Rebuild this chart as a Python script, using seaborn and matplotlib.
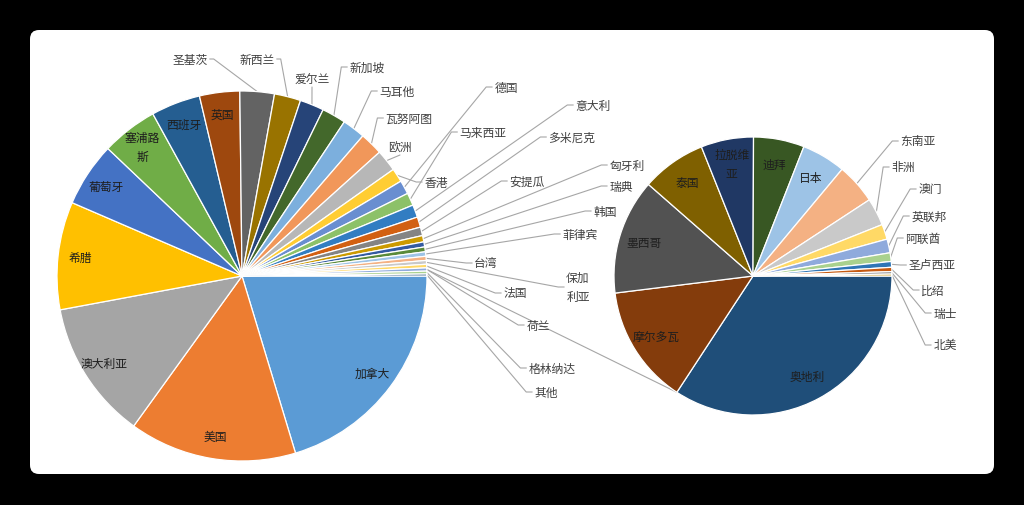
import numpy as np
import matplotlib
matplotlib.use("Agg")
import matplotlib.pyplot as plt
from matplotlib.patches import FancyBboxPatch
import seaborn as sns

# left pie: countries, share (%)
left_names = ['加拿大', '美国', '澳大利亚', '希腊', '葡萄牙', '塞浦路\n斯', '西班牙', '英国',
              '圣基茨', '新西兰', '爱尔兰', '新加坡', '马耳他', '瓦努阿图', '欧洲', '香港',
              '德国', '马来西亚', '意大利', '多米尼克', '安提瓜', '匈牙利', '瑞典', '韩国',
              '菲律宾', '台湾', '保加\n利亚', '法国', '荷兰', '格林纳达', '其他']
left_values = [20.3, 14.6, 12.1, 9.4, 5.6, 4.9, 4.3, 3.5,
               3.0, 2.3, 2.1, 2.1, 2.0, 2.0, 1.9, 1.2,
               1.2, 1.1, 1.1, 0.9, 0.75, 0.55, 0.44, 0.42,
               0.39, 0.36, 0.33, 0.31, 0.28, 0.25, 0.17]

# right pie
right_names = ['奥地利', '摩尔多瓦', '墨西哥', '泰国', '拉脱维\n亚', '迪拜', '日本', '东南亚',
               '非洲', '澳门', '英联邦', '阿联酋', '圣卢西亚', '比绍', '瑞士', '北美']
right_values = [34.2, 13.8, 13.4, 7.5, 6.1, 5.9, 5.1, 4.7,
                3.2, 1.75, 1.6, 1.0, 0.67, 0.5, 0.28, 0.22]

# excel office palette
left_colors = ['#5B9BD5', '#ED7D31', '#A5A5A5', '#FFC000', '#4472C4', '#70AD47',
               '#255E91', '#9E480E', '#636363', '#997300', '#264478', '#43682B',
               '#7CAFDD', '#F1975A', '#B7B7B7', '#FFCD33', '#698ED0', '#8CC168',
               '#327DC2', '#D26012', '#848484', '#CC9A00', '#335AA1', '#5A8A39',
               '#9DC3E6', '#F4B183', '#C9C9C9', '#FFD966', '#8FAADC', '#A9D18E',
               '#1F4E79']
right_colors = ['#1F4E79', '#843C0C', '#525252', '#7F6000', '#203864', '#385723',
                '#9DC3E6', '#F4B183', '#C9C9C9', '#FFD966', '#8FAADC', '#A9D18E',
                '#2E75B6', '#C55A11', '#7B7B7B', '#BF9000']

# label layout (pixel positions of outside labels)
left_label_pos = [(190, 60), (257, 60), (312, 80), (367, 68), (397, 92), (409, 119),
                  (400, 148), (436, 183), (506, 88), (483, 133), (593, 106), (572, 138),
                  (527, 182), (627, 166), (621, 187), (605, 212), (580, 235), (486, 264),
                  (578, 288), (515, 294), (538, 326), (552, 369), (546, 393)]
right_label_pos = [(918, 142), (903, 168), (930, 190), (929, 217), (923, 239),
                   (932, 266), (933, 291), (945, 314), (945, 346)]

W, H = 1024, 506
sns.set_theme(style="white")
plt.rcParams['font.family'] = ['Noto Sans CJK SC', 'DejaVu Sans']

fig = plt.figure(figsize=(W / 100, H / 100), dpi=100, facecolor='black')
ax = fig.add_axes([0, 0, 1, 1])
ax.add_patch(FancyBboxPatch((30, H - 475), 964, 444, boxstyle='round,pad=0,rounding_size=9',
                            fc='white', ec='none', zorder=0))

FS = 8.5
char_px = FS * 100 / 72
line_kw = dict(color='#A6A6A6', lw=0.8, zorder=0.6)


def draw_pie(values, names, colors, cx, cy, r, n_inside, inside_r, label_pos):
    wedges, _ = ax.pie(values, colors=colors, startangle=0, counterclock=False,
                       center=(cx, H - cy), radius=r, frame=True,
                       wedgeprops=dict(edgecolor='white', linewidth=0.9))
    for i, w in enumerate(wedges):
        mid = np.deg2rad((w.theta1 + w.theta2) / 2)
        if i < n_inside:
            ax.text(cx + inside_r * r * np.cos(mid), H - cy + inside_r * r * np.sin(mid),
                    names[i], ha='center', va='center', fontsize=FS, color='#1e1e1e',
                    linespacing=1.6, zorder=3)
            continue
        lx, ly = label_pos[i - n_inside]
        ly = H - ly
        ex, ey = cx + r * np.cos(mid), H - cy + r * np.sin(mid)
        txt = names[i]
        hw = max(len(s) for s in txt.split('\n')) * char_px / 2 + 2
        if lx - hw > ex:
            ax.plot([ex, lx - hw - 6, lx - hw], [ey, ly, ly], **line_kw)
        elif lx + hw < ex:
            ax.plot([ex, lx + hw + 4, lx + hw], [ey, ly, ly], **line_kw)
        else:
            ax.plot([ex, lx], [ey, ly - 8], **line_kw)
        ax.text(lx, ly, txt, ha='center', va='center', fontsize=FS, color='#404040',
                linespacing=1.6, zorder=3)
    return wedges


lw_ = draw_pie(left_values, left_names, left_colors,
               242, 277, 185, 8, 0.88, left_label_pos)
rw_ = draw_pie(right_values, right_names, right_colors,
               753, 277, 139, 7, 0.82, right_label_pos)

# stray leader line running from the left pie to the right one
a0 = np.deg2rad((lw_[28].theta1 + lw_[28].theta2) / 2)
a1 = np.deg2rad(rw_[0].theta1)
ax.plot([242 + 185 * np.cos(a0), 753 + 139 * np.cos(a1)],
        [H - 277 + 185 * np.sin(a0), H - 277 + 139 * np.sin(a1)], **line_kw)

ax.set_xlim(0, W)
ax.set_ylim(0, H)
ax.set_aspect('equal')
ax.axis('off')
fig.savefig('out.png', dpi=100, facecolor='black')
